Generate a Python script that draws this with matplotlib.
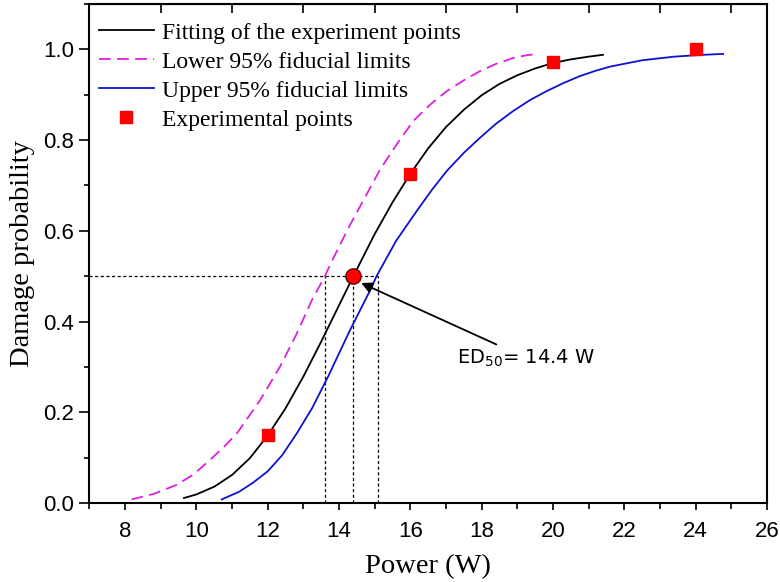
import matplotlib
matplotlib.use("Agg")
import matplotlib.pyplot as plt
from matplotlib.ticker import MultipleLocator

# curves
fit_x = [9.65, 10.0, 10.5, 11.0, 11.5, 12.0, 12.5, 13.0, 13.5, 14.0, 14.4, 15.0, 15.5,
         16.0, 16.5, 17.0, 17.5, 18.0, 18.5, 19.0, 19.5, 20.0, 20.5, 21.0, 21.4]
fit_y = [0.011, 0.019, 0.036, 0.062, 0.099, 0.149, 0.209, 0.279, 0.356, 0.436, 0.500, 0.593, 0.663,
         0.726, 0.782, 0.829, 0.867, 0.899, 0.924, 0.943, 0.958, 0.970, 0.978, 0.984, 0.988]

lower_x = [8.18, 8.8, 9.44, 9.9, 10.38, 10.75, 11.13, 11.78, 12.34, 12.81, 13.23, 13.6, 13.84,
           14.3, 14.77, 15.15, 15.61, 16.08, 16.55, 17.02, 17.5, 17.95, 18.4, 18.88, 19.25, 19.58]
lower_y = [0.008, 0.02, 0.04, 0.062, 0.095, 0.122, 0.153, 0.226, 0.30, 0.373, 0.446, 0.50, 0.54,
           0.612, 0.68, 0.735, 0.79, 0.842, 0.878, 0.908, 0.932, 0.952, 0.968, 0.981, 0.987, 0.99]

upper_x = [10.71, 11.2, 11.59, 12.0, 12.4, 12.81, 13.25, 13.7, 14.3, 14.91, 15.05, 15.6, 16.18,
           16.6, 17.02, 17.5, 17.95, 18.4, 18.88, 19.35, 19.82, 20.3, 20.75, 21.2, 21.6, 22.5,
           23.4, 24.2, 24.77]
upper_y = [0.008, 0.025, 0.045, 0.07, 0.105, 0.153, 0.21, 0.28, 0.38, 0.475, 0.50, 0.578, 0.644,
           0.69, 0.732, 0.772, 0.805, 0.836, 0.864, 0.888, 0.908, 0.926, 0.941, 0.953, 0.962, 0.976,
           0.984, 0.988, 0.99]

exp_x = [12, 16, 20, 24]
exp_y = [0.15, 0.725, 0.973, 1.0]

ed50 = 14.4
ed50_low = 13.6
ed50_high = 15.1

serif = "Liberation Serif"
sans = "Liberation Sans"
plt.rcParams["mathtext.default"] = "regular"

fig = plt.figure(figsize=(7.8, 5.82), dpi=100)
ax = fig.add_axes([0.1147, 0.1357, 0.8686, 0.8574])

ax.plot(fit_x, fit_y, color="black", lw=1.3, label="Fitting of the experiment points")
ax.plot(lower_x, lower_y, color="#e020e0", lw=1.3, dashes=(6.5, 3.5),
        label="Lower 95% fiducial limits")
ax.plot(upper_x, upper_y, color="#1010d0", lw=1.3, label="Upper 95% fiducial limits")
ax.plot(exp_x, exp_y, ls="none", marker="s", ms=8, color="red", label="Experimental points")

# ED50 guide lines
ax.plot([7, ed50_high], [0.5, 0.5], color="black", lw=0.9, dashes=(2.5, 2), zorder=1)
for xv in [ed50_low, ed50, ed50_high]:
    ax.plot([xv, xv], [0, 0.5], color="black", lw=0.9, dashes=(2.5, 2), zorder=1)
ax.plot([ed50], [0.5], marker="o", ms=11, color="red", mec="#600000", mew=1.0, zorder=5)

ax.annotate("ED$_{50}$= 14.4 W", xy=(14.62, 0.485), xytext=(17.3, 0.32),
            fontsize=14, family="DejaVu Sans", va="center", ha="left",
            arrowprops=dict(arrowstyle="-|>", color="black", lw=1.3,
                            mutation_scale=16, shrinkA=0, shrinkB=0))

ax.set_xlim(7, 26)
ax.set_ylim(0, 1.1)
ax.set_xticks(range(8, 27, 2))
ax.xaxis.set_minor_locator(MultipleLocator(1))
ax.set_yticks([0.0, 0.2, 0.4, 0.6, 0.8, 1.0])
ax.yaxis.set_minor_locator(MultipleLocator(0.1))
ax.yaxis.set_major_formatter(matplotlib.ticker.FormatStrFormatter("%.1f"))

for s in ax.spines.values():
    s.set_linewidth(1.5)

ax.tick_params(axis="x", which="major", direction="out", length=5, width=1.2,
               labelsize=16, pad=8)
ax.tick_params(axis="x", which="minor", direction="out", length=4, width=1.2)
ax.tick_params(axis="y", which="major", direction="out", length=7, width=1.2,
               labelsize=16, pad=4)
ax.tick_params(axis="y", which="minor", direction="out", length=3.6, width=1.2)
for lab in ax.get_xticklabels() + ax.get_yticklabels():
    lab.set_family(sans)

# top axis: inward ticks at odd values only
top = ax.secondary_xaxis("top")
top.set_xticks(range(9, 26, 2))
top.tick_params(direction="in", length=6.5, width=1.2, labeltop=False)

ax.set_xlabel("Power (W)", family=serif, fontsize=20.5, labelpad=9)
ax.set_ylabel("Damage probability", family=serif, fontsize=20.5, labelpad=6)

ax.legend(loc="upper left", bbox_to_anchor=(0.0145, 0.964), frameon=False,
          prop={"family": serif, "size": 17}, handlelength=2.3, handletextpad=0.34,
          labelspacing=0.32, borderpad=0, borderaxespad=0, numpoints=1)

fig.savefig("out.png", dpi=100)
